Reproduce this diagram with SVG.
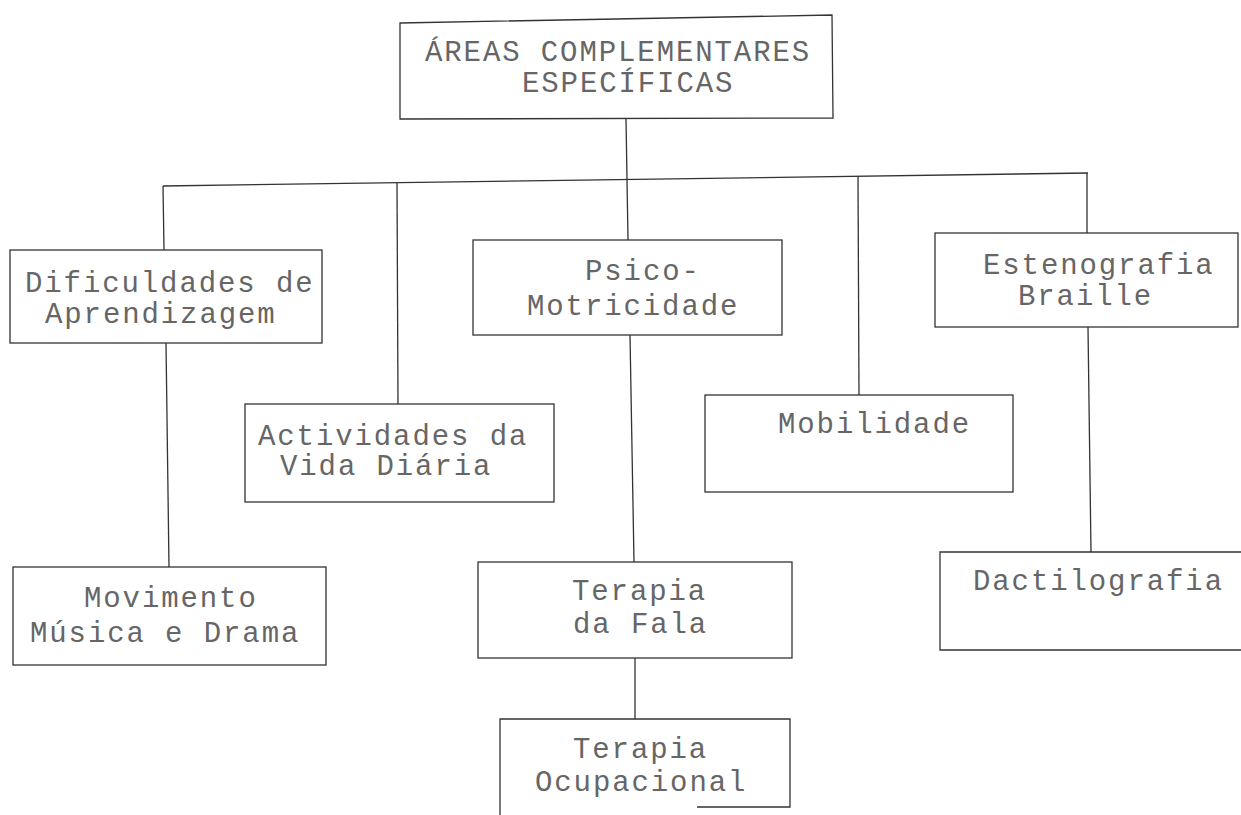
<svg xmlns="http://www.w3.org/2000/svg" width="1241" height="815" viewBox="0 0 1241 815">
<style>
.box{fill:none;stroke:#333;stroke-width:1.3}
.ln{fill:none;stroke:#333;stroke-width:1.3}
.t{font-family:"Liberation Mono","DejaVu Sans Mono",monospace;font-size:29px;letter-spacing:1.9px;fill:#666}
</style>
<rect width="1241" height="815" fill="#fff"/>
<g id="connectors">
<path class="ln" d="M163,186 L1088,173"/>
<path class="ln" d="M626,118 L627,180"/>
<path class="ln" d="M163,186 L164,250"/>
<path class="ln" d="M397,183 L398,404"/>
<path class="ln" d="M627,180 L628,240"/>
<path class="ln" d="M858,176 L859,395"/>
<path class="ln" d="M1087,173 L1087,233"/>
<path class="ln" d="M166,343 L169,567"/>
<path class="ln" d="M630,335 L634,562"/>
<path class="ln" d="M635,658 L635,719"/>
<path class="ln" d="M1088,327 L1091,552"/>
</g>
<g id="n-areas">
<path class="box" d="M400,23 L832,15 L833,118 L400,119 Z"/>
<text class="t" x="425" y="61">ÁREAS COMPLEMENTARES</text>
<text class="t" x="522" y="92">ESPECÍFICAS</text>
</g>
<g id="n-dificuldades">
<rect class="box" x="10" y="250" width="312" height="93"/>
<text class="t" x="25" y="292">Dificuldades de</text>
<text class="t" x="45" y="323">Aprendizagem</text>
</g>
<g id="n-actividades">
<rect class="box" x="245" y="404" width="309" height="98"/>
<text class="t" x="258" y="445">Actividades da</text>
<text class="t" x="280" y="475">Vida Diária</text>
</g>
<g id="n-psico">
<rect class="box" x="473" y="240" width="309" height="95"/>
<text class="t" x="585" y="280">Psico-</text>
<text class="t" x="527" y="315">Motricidade</text>
</g>
<g id="n-mobilidade">
<rect class="box" x="705" y="395" width="308" height="97"/>
<text class="t" x="778" y="433">Mobilidade</text>
</g>
<g id="n-estenografia">
<rect class="box" x="935" y="233" width="303" height="94"/>
<text class="t" x="983" y="274">Estenografia</text>
<text class="t" x="1018" y="305">Braille</text>
</g>
<g id="n-movimento">
<rect class="box" x="13" y="567" width="313" height="98"/>
<text class="t" x="84" y="607">Movimento</text>
<text class="t" x="30" y="642">Música e Drama</text>
</g>
<g id="n-terapia-fala">
<rect class="box" x="478" y="562" width="314" height="96"/>
<text class="t" x="572" y="600">Terapia</text>
<text class="t" x="573" y="633">da Fala</text>
</g>
<g id="n-terapia-ocupacional">
<path class="box" d="M500,815 L500,719 L790,719 L790,807 L697,807"/>
<text class="t" x="573" y="758">Terapia</text>
<text class="t" x="535" y="791">Ocupacional</text>
</g>
<g id="n-dactilografia">
<path class="box" d="M1241,552 L940,552 L940,650 L1241,650"/>
<text class="t" x="973" y="590">Dactilografia</text>
</g>
</svg>
